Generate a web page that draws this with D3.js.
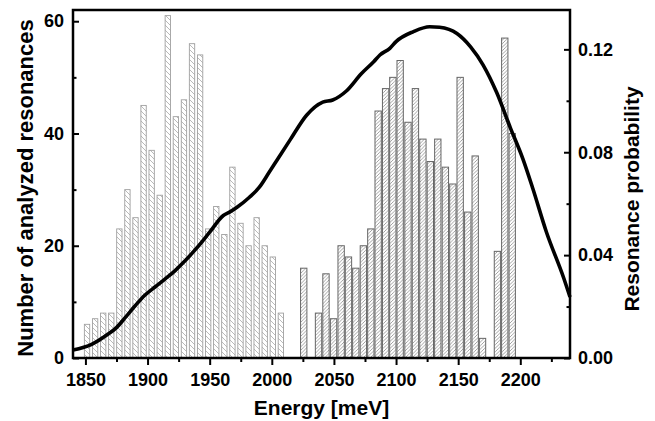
<!DOCTYPE html>
<html>
<head>
<meta charset="utf-8">
<script src="https://cdn.jsdelivr.net/npm/d3@7"></script>
<style>
  body { margin: 0; background: #fff; }
  text { font-family: "Liberation Sans", Arial, sans-serif; font-weight: bold; fill: #000; }
</style>
</head>
<body>
<div id="chart"></div>
<script>
// first group of resonances (light bars, "\" hatch)
var energyA = [1851.3, 1857.8, 1864.3, 1870.8, 1877.3, 1883.8, 1890.3, 1896.8, 1903.3, 1909.8,
               1916.3, 1922.8, 1929.3, 1935.8, 1942.3, 1948.8, 1955.3, 1961.8, 1968.3, 1974.8,
               1981.3, 1987.8, 1994.3, 2000.8, 2007.3];
var countA  = [6, 7, 8, 8, 23, 30, 25, 45, 37, 29,
               61, 43, 46, 56, 54, 23, 27, 22, 34, 24,
               20, 25, 20, 18, 8];

// second group (darker bars, "/" hatch)
var energyB = [2025.7, 2037.6, 2043.6, 2049.7, 2055.8, 2061.7, 2067.6, 2073.7, 2079.7, 2085.6,
               2091.6, 2097.4, 2103.3, 2109.6, 2115.6, 2121.6, 2127.6, 2133.6, 2139.7, 2145.7,
               2151.6, 2157.7, 2163.7, 2169.6, 2181.6, 2187.5, 2193.5];
var countB  = [16, 8, 15, 7, 20, 18, 16, 20, 23, 44,
               48, 50, 53, 42, 48, 39, 35, 39, 34, 31,
               50, 26, 36, 3.5, 19, 57, 40];

// resonance probability curve
var curveE = [1840, 1855, 1868, 1875, 1882, 1890, 1898, 1906, 1914, 1922,
              1929, 1940, 1950, 1961, 1966, 1972, 1982, 1990, 1998, 2004,
              2015, 2028, 2041, 2049, 2060, 2072, 2082, 2087, 2095, 2100,
              2114, 2127, 2135, 2149, 2160, 2170, 2181, 2192, 2202, 2210,
              2221, 2235, 2240];
var curveP = [0.0031, 0.0053, 0.0092, 0.0118, 0.0157, 0.0203, 0.0245, 0.0276, 0.0307, 0.0339,
              0.0372, 0.0430, 0.0489, 0.0554, 0.0567, 0.0586, 0.0625, 0.0664, 0.0723, 0.0768,
              0.0850, 0.0944, 0.0995, 0.1003, 0.1038, 0.1105, 0.1152, 0.1178, 0.1204, 0.1230,
              0.1269, 0.1288, 0.1286, 0.1262, 0.1210, 0.1140, 0.1032, 0.0895, 0.0775, 0.0660,
              0.0490, 0.0310, 0.0237];

var xTicks = [1850, 1900, 1950, 2000, 2050, 2100, 2150, 2200];
var xMinor = [1875, 1925, 1975, 2025, 2075, 2125, 2175, 2225];
var yTicks = [0, 20, 40, 60];
var yMinor = [10, 30, 50];
var pTicks = [0, 0.04, 0.08, 0.12];
var pMinor = [0.02, 0.06, 0.10];

function makeChart() {
  var W = 655, H = 421;
  var plotL = 73, plotR = 570, plotT = 10, plotB = 358;

  var svg = d3.select("#chart").append("svg")
      .attr("width", W)
      .attr("height", H);

  var defs = svg.append("defs");
  defs.append("pattern")
      .attr("id", "hatchA")
      .attr("patternUnits", "userSpaceOnUse")
      .attr("width", 5).attr("height", 5)
    .append("path")
      .attr("d", "M0,0L5,5M-1,4L1,6M4,-1L6,1")
      .attr("stroke", "#a8a8a8")
      .attr("stroke-width", 0.8);
  defs.append("pattern")
      .attr("id", "hatchB")
      .attr("patternUnits", "userSpaceOnUse")
      .attr("width", 3.5).attr("height", 3.5)
    .append("path")
      .attr("d", "M0,3.5L3.5,0M-1,1L1,-1M2.5,4.5L4.5,2.5")
      .attr("stroke", "#8c8c8c")
      .attr("stroke-width", 0.8);

  var x = d3.scaleLinear().domain([1840, 2240]).range([plotL, plotR]);
  var y = d3.scaleLinear().domain([0, 62]).range([plotB, plotT]);
  var p = d3.scaleLinear().domain([0, 0.1353]).range([plotB, plotT]);

  // bars
  var widthA = 4.3, widthB = 5.1;
  var dataA = energyA.map(function(e, i) { return [e, countA[i]]; });
  var dataB = energyB.map(function(e, i) { return [e, countB[i]]; });

  svg.append("g").selectAll("rect")
      .data(dataA)
    .enter().append("rect")
      .attr("x", function(d) { return x(d[0] - widthA / 2); })
      .attr("width", function(d) { return x(d[0] + widthA / 2) - x(d[0] - widthA / 2); })
      .attr("y", function(d) { return y(d[1]); })
      .attr("height", function(d) { return y(0) - y(d[1]); })
      .attr("fill", "url(#hatchA)")
      .attr("stroke", "#a0a0a0")
      .attr("stroke-width", 0.9);

  svg.append("g").selectAll("rect")
      .data(dataB)
    .enter().append("rect")
      .attr("x", function(d) { return x(d[0] - widthB / 2); })
      .attr("width", function(d) { return x(d[0] + widthB / 2) - x(d[0] - widthB / 2); })
      .attr("y", function(d) { return y(d[1]); })
      .attr("height", function(d) { return y(0) - y(d[1]); })
      .attr("fill", "url(#hatchB)")
      .attr("stroke", "#666")
      .attr("stroke-width", 1);

  // probability curve
  var line = d3.line()
      .x(function(d) { return x(d[0]); })
      .y(function(d) { return p(d[1]); })
      .curve(d3.curveMonotoneX);

  svg.append("path")
      .datum(curveE.map(function(e, i) { return [e, curveP[i]]; }))
      .attr("d", line)
      .attr("fill", "none")
      .attr("stroke", "#000")
      .attr("stroke-width", 3.6)
      .attr("stroke-linejoin", "round");

  // axes
  function styleAxis(g) {
    g.attr("font-size", 18).attr("font-family", null);
    g.select(".domain").remove();
    g.selectAll(".tick line").attr("stroke", "#000").attr("stroke-width", 2);
    g.selectAll(".tick text").attr("fill", "#000");
  }

  svg.append("g")
      .attr("transform", "translate(0," + plotB + ")")
      .call(d3.axisBottom(x).tickValues(xTicks).tickSize(7).tickPadding(8).tickFormat(d3.format("d")))
      .call(styleAxis);
  svg.append("g")
      .attr("transform", "translate(0," + plotB + ")")
      .call(d3.axisBottom(x).tickValues(xMinor).tickSize(4).tickFormat(""))
      .call(styleAxis);

  svg.append("g")
      .attr("transform", "translate(" + plotL + ",0)")
      .call(d3.axisLeft(y).tickValues(yTicks).tickSizeInner(-6).tickSizeOuter(0).tickPadding(9))
      .call(styleAxis);
  svg.append("g")
      .attr("transform", "translate(" + plotL + ",0)")
      .call(d3.axisLeft(y).tickValues(yMinor).tickSizeInner(-3.5).tickSizeOuter(0).tickFormat(""))
      .call(styleAxis);

  svg.append("g")
      .attr("transform", "translate(" + plotR + ",0)")
      .call(d3.axisRight(p).tickValues(pTicks).tickSizeInner(-6).tickSizeOuter(0).tickPadding(8).tickFormat(d3.format(".2f")))
      .call(styleAxis);
  svg.append("g")
      .attr("transform", "translate(" + plotR + ",0)")
      .call(d3.axisRight(p).tickValues(pMinor).tickSizeInner(-3.5).tickSizeOuter(0).tickFormat(""))
      .call(styleAxis);

  // frame
  svg.append("rect")
      .attr("x", plotL).attr("y", plotT)
      .attr("width", plotR - plotL).attr("height", plotB - plotT)
      .attr("fill", "none")
      .attr("stroke", "#000")
      .attr("stroke-width", 2.5);

  // titles
  svg.append("text")
      .attr("x", (plotL + plotR) / 2)
      .attr("y", 415)
      .attr("text-anchor", "middle")
      .attr("font-size", 21)
      .text("Energy [meV]");

  svg.append("text")
      .attr("transform", "translate(33,188) rotate(-90)")
      .attr("text-anchor", "middle")
      .attr("font-size", 22)
      .text("Number of analyzed resonances");

  svg.append("text")
      .attr("transform", "translate(639,199) rotate(-90)")
      .attr("text-anchor", "middle")
      .attr("font-size", 21)
      .text("Resonance probability");
}

makeChart();
</script>
</body>
</html>
